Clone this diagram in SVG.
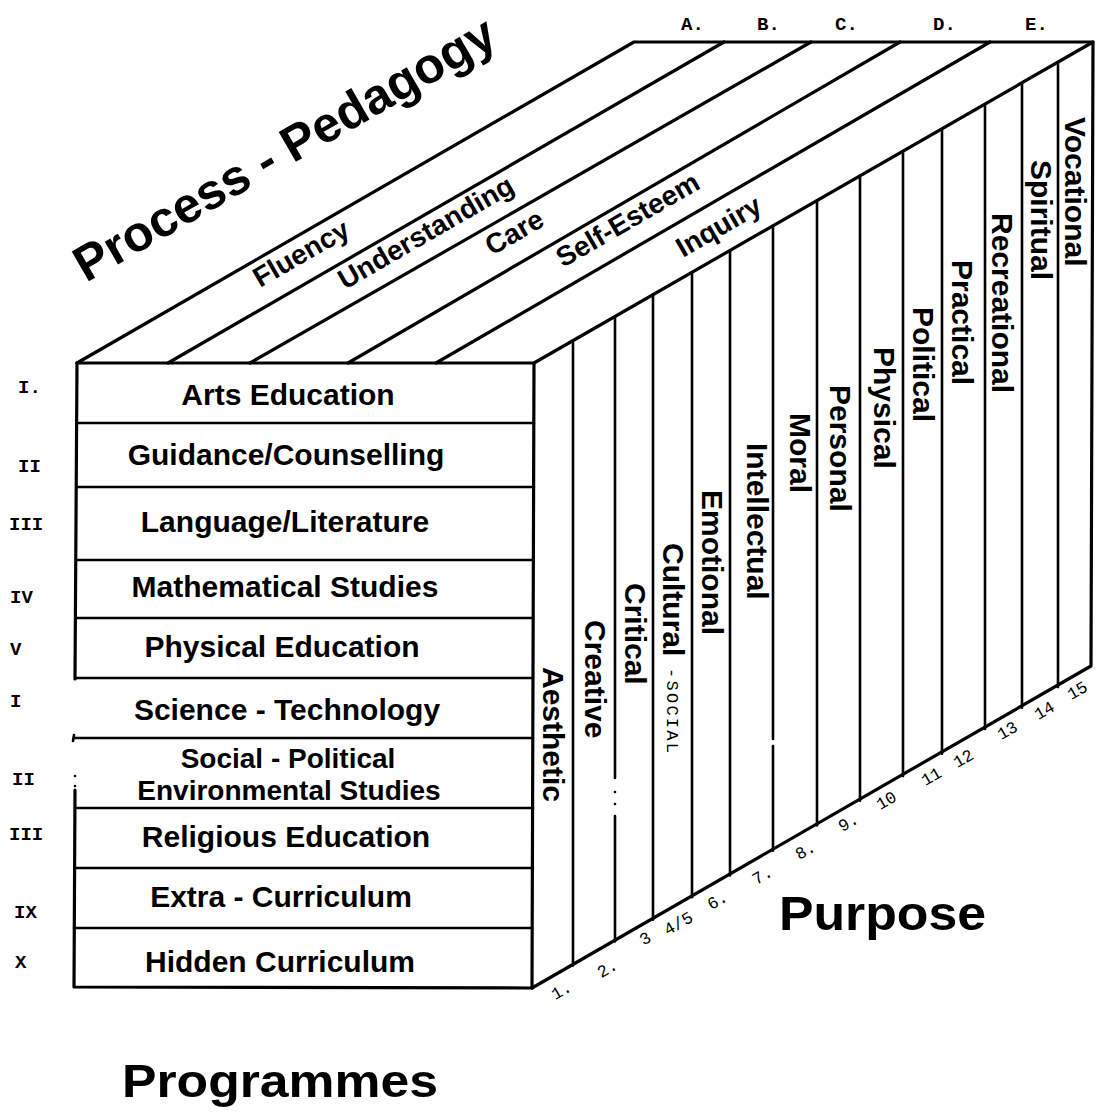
<svg xmlns="http://www.w3.org/2000/svg" width="1096" height="1117" viewBox="0 0 1096 1117">
<style>
.e{stroke:#000;stroke-width:3.2;fill:none;stroke-linecap:round;stroke-linejoin:round}
.d{stroke:#000;stroke-width:2.6;fill:none;stroke-linecap:round}
.b{font-family:"Liberation Sans",Arial,Helvetica,sans-serif;font-weight:bold;fill:#000}
.f{font-size:30px;text-anchor:middle}
.f2{font-size:28px;text-anchor:middle}
.t{font-size:28px}
.v{font-size:30px}
.m{font-family:"Liberation Mono","Courier New",monospace;fill:#000}
.r{font-size:19px;font-weight:bold}
.n{font-size:17px;text-anchor:middle}
.s{font-size:17px}
</style>
<rect width="1096" height="1117" fill="#fff"/>

<!-- cube edges and dividing lines -->
<g id="connectors">
  <!-- top face -->
  <path class="e" d="M77 363 L634 42 L1093 42"/>
  <path class="e" d="M168 363 L724 42"/>
  <path class="e" d="M250 363 L811 42"/>
  <path class="e" d="M348 363 L900 42"/>
  <path class="e" d="M436 363 L990 42"/>
  <path class="e" d="M534 363 L1093 42 L1091 666 L532 988"/>
  <!-- front face outline -->
  <path class="e" d="M77 363 L534 363 L532 988 L74 987 L75 790"/>
  <path class="e" d="M75 679 L77 363"/>
  <path class="d" d="M74 735 L73 741"/>
  <circle cx="75" cy="776" r="1.3"/>
  <circle cx="75" cy="786" r="1.3"/>
  <!-- front rows -->
  <path class="d" d="M77 423 H534 M77 487 H534 M76 560 H533 M76 618 H533 M75 678 H533 M75 738 H533 M75 808 H533 M75 868 H533 M74 928 H532"/>
  <!-- right face columns -->
  <path class="d" d="M573 340.6 V965.6"/>
  <path class="d" d="M615 316.5 V778 M615 816 V941.5"/>
  <circle cx="615" cy="792" r="1.3"/>
  <circle cx="615" cy="804" r="1.3"/>
  <path class="d" d="M653 294.7 V919.7"/>
  <path class="d" d="M692 272.3 V897.3"/>
  <path class="d" d="M730 250.5 V875.5"/>
  <path class="d" d="M773 225.8 V739 M773 746 V850.8"/>
  <path class="d" d="M817 200.5 V825.5"/>
  <path class="d" d="M860 175.8 V800.8"/>
  <path class="d" d="M903 151.1 V776.1"/>
  <path class="d" d="M942 128.7 V753.7"/>
  <path class="d" d="M985 104 V729"/>
  <path class="d" d="M1022 82.8 V707.8"/>
  <path class="d" d="M1058 62.1 V687.1"/>
</g>

<!-- headings -->
<g id="title-process">
  <text class="b" font-size="50" transform="translate(86 283) rotate(-30)">Process - Pedagogy</text>
</g>
<g id="title-purpose">
  <text class="b" font-size="48" x="779" y="930" textLength="207" lengthAdjust="spacingAndGlyphs">Purpose</text>
</g>
<g id="title-programmes">
  <text class="b" font-size="47" x="122" y="1097" textLength="316" lengthAdjust="spacingAndGlyphs">Programmes</text>
</g>

<!-- top face: process strips -->
<g id="process-A"><text class="b t" transform="translate(260 288) rotate(-30)">Fluency</text><text class="m r" x="681" y="30">A.</text></g>
<g id="process-B"><text class="b t" transform="translate(345 290) rotate(-30)">Understanding</text><text class="m r" x="757" y="30">B.</text></g>
<g id="process-C"><text class="b t" transform="translate(492 256) rotate(-30)">Care</text><text class="m r" x="835" y="30">C.</text></g>
<g id="process-D"><text class="b t" transform="translate(563 268) rotate(-30)">Self-Esteem</text><text class="m r" x="933" y="30">D.</text></g>
<g id="process-E"><text class="b t" transform="translate(683 258) rotate(-30)">Inquiry</text><text class="m r" x="1025" y="30">E.</text></g>

<!-- front face: programmes -->
<g id="prog-1"><text class="m r" x="18" y="393">I.</text><text class="b f" x="288" y="405">Arts Education</text></g>
<g id="prog-2"><text class="m r" x="18" y="472">II</text><text class="b f" x="286" y="465">Guidance/Counselling</text></g>
<g id="prog-3"><text class="m r" x="9" y="530">III</text><text class="b f" x="285" y="532">Language/Literature</text></g>
<g id="prog-4"><text class="m r" x="10" y="603">IV</text><text class="b f" x="285" y="597">Mathematical Studies</text></g>
<g id="prog-5"><text class="m r" x="10" y="655">V</text><text class="b f" x="282" y="657">Physical Education</text></g>
<g id="prog-6"><text class="m r" x="10" y="707">I</text><text class="b f" x="287" y="720">Science - Technology</text></g>
<g id="prog-7"><text class="m r" x="12" y="785">II</text><text class="b f2" x="288" y="768">Social - Political</text><text class="b f2" x="289" y="800">Environmental Studies</text></g>
<g id="prog-8"><text class="m r" x="9" y="840">III</text><text class="b f" x="286" y="847">Religious Education</text></g>
<g id="prog-9"><text class="m r" x="14" y="918">IX</text><text class="b f" x="281" y="907">Extra - Curriculum</text></g>
<g id="prog-10"><text class="m r" x="15" y="968">X</text><text class="b f" x="280" y="972">Hidden Curriculum</text></g>

<!-- right face: purposes -->
<g id="purpose-1"><text class="b v" transform="translate(543 667) rotate(90)">Aesthetic</text><text class="m n" transform="rotate(-30 561 990)" x="561" y="996">1.</text></g>
<g id="purpose-2"><text class="b v" transform="translate(585 620) rotate(90)">Creative</text><text class="m n" transform="rotate(-30 607 968)" x="607" y="974">2.</text></g>
<g id="purpose-3"><text class="b v" transform="translate(625 583) rotate(90)">Critical</text><text class="m n" transform="rotate(-30 645 938)" x="645" y="944">3</text></g>
<g id="purpose-4"><text class="b v" transform="translate(663 543) rotate(90)">Cultural</text><text class="m s" transform="translate(667 668) rotate(90)" textLength="85" lengthAdjust="spacing">-SOCIAL</text><text class="m n" transform="rotate(-30 678 923)" x="678" y="929">4/5</text></g>
<g id="purpose-6"><text class="b v" transform="translate(702 490) rotate(90)">Emotional</text><text class="m n" transform="rotate(-30 717 900)" x="717" y="906">6.</text></g>
<g id="purpose-7"><text class="b v" transform="translate(747 443) rotate(90)">Intellectual</text><text class="m n" transform="rotate(-30 762 875)" x="762" y="881">7.</text></g>
<g id="purpose-8"><text class="b v" transform="translate(790 413) rotate(90)">Moral</text><text class="m n" transform="rotate(-30 805 850)" x="805" y="856">8.</text></g>
<g id="purpose-9"><text class="b v" transform="translate(830 385) rotate(90)">Personal</text><text class="m n" transform="rotate(-30 848 822)" x="848" y="828">9.</text></g>
<g id="purpose-10"><text class="b v" transform="translate(874 347) rotate(90)">Physical</text><text class="m n" transform="rotate(-30 886 800)" x="886" y="806">10</text></g>
<g id="purpose-11"><text class="b v" transform="translate(913 307) rotate(90)">Political</text><text class="m n" transform="rotate(-30 931 776)" x="931" y="782">11</text></g>
<g id="purpose-12"><text class="b v" transform="translate(952 260) rotate(90)">Practical</text><text class="m n" transform="rotate(-30 963 758)" x="963" y="764">12</text></g>
<g id="purpose-13"><text class="b v" transform="translate(992 213) rotate(90)">Recreational</text><text class="m n" transform="rotate(-30 1007 730)" x="1007" y="736">13</text></g>
<g id="purpose-14"><text class="b v" transform="translate(1031 160) rotate(90)">Spiritual</text><text class="m n" transform="rotate(-30 1044 710)" x="1044" y="716">14</text></g>
<g id="purpose-15"><text class="b v" transform="translate(1065 117) rotate(90)">Vocational</text><text class="m n" transform="rotate(-30 1077 690)" x="1077" y="696">15</text></g>
</svg>
